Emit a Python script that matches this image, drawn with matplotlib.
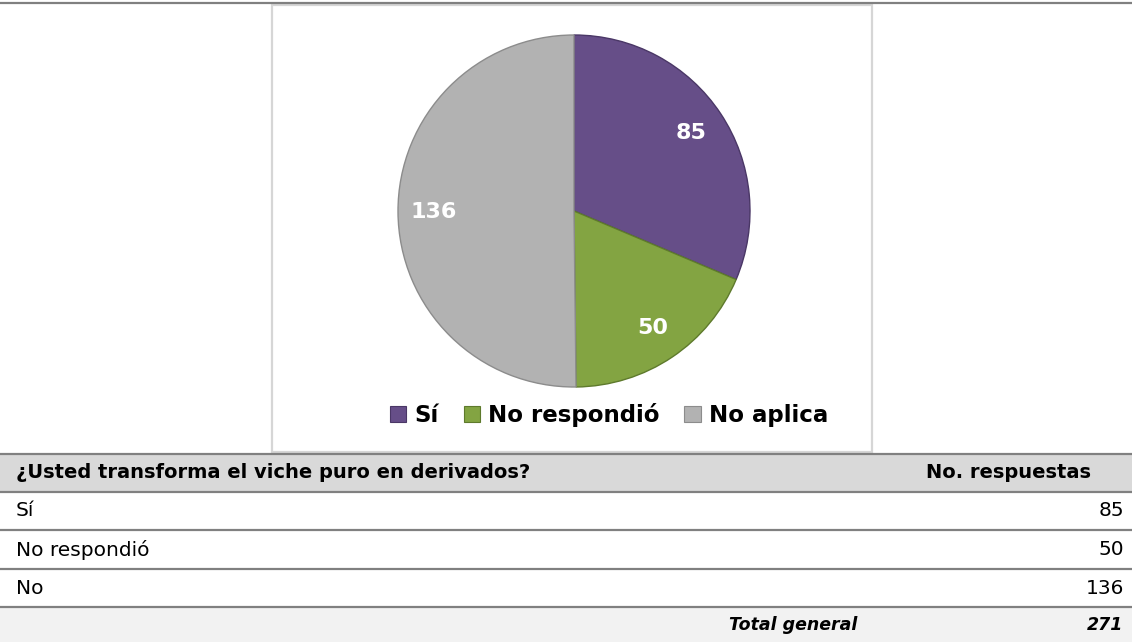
import matplotlib
matplotlib.use("Agg")
import matplotlib.pyplot as plt
from matplotlib.patches import Rectangle, Patch

# ---- data ----
pie_labels = ["Sí", "No respondió", "No aplica"]
pie_values = [85, 50, 136]
pie_colors = ["#664E88", "#83A442", "#B2B2B2"]
pie_edges = ["#4A3766", "#5E7A2C", "#8C8C8C"]

table_header = ["¿Usted transforma el viche puro en derivados?", "No. respuestas"]
table_categories = ["Sí", "No respondió", "No"]
table_values = [85, 50, 136]
total_label = "Total general"

W, H = 1132, 642
fig = plt.figure(figsize=(W / 100, H / 100), dpi=100)
fig.patch.set_facecolor("white")

# full-figure axes in pixel coordinates
bg = fig.add_axes([0, 0, 1, 1])
bg.set_xlim(0, W)
bg.set_ylim(H, 0)
bg.axis("off")

# top rule
bg.plot([0, W], [3, 3], color="#808080", lw=1.6, solid_capstyle="butt")
# chart box
bg.add_patch(Rectangle((272, 5), 600, 447, facecolor="white", edgecolor="#D6D6D6", lw=1.6))

# ---- table ----
row_tops = [454, 492, 530, 569, 607, 642]
bg.add_patch(Rectangle((0, row_tops[0]), W, row_tops[1] - row_tops[0], facecolor="#D9D9D9", edgecolor="none"))
bg.add_patch(Rectangle((0, row_tops[4]), W, row_tops[5] - row_tops[4], facecolor="#F2F2F2", edgecolor="none"))
for y in row_tops[:5]:
    bg.plot([0, W], [y, y], color="#808080", lw=1.6, solid_capstyle="butt")

txt_kw = dict(family="DejaVu Sans", color="black", va="center")
bg.text(16, (row_tops[0] + row_tops[1]) / 2, table_header[0], fontsize=14, fontweight="bold", ha="left", **txt_kw)
bg.text(1091, (row_tops[0] + row_tops[1]) / 2, table_header[1], fontsize=14, fontweight="bold", ha="right", **txt_kw)
for i, (cat, val) in enumerate(zip(table_categories, table_values)):
    yc = (row_tops[i + 1] + row_tops[i + 2]) / 2
    bg.text(16, yc, cat, fontsize=14.5, fontweight="normal", ha="left", **txt_kw)
    bg.text(1124, yc, str(val), fontsize=14.5, fontweight="normal", ha="right", **txt_kw)
yc = (row_tops[4] + row_tops[5]) / 2
bg.text(857, yc, total_label, fontsize=12.5, fontweight="bold", style="italic", ha="right", **txt_kw)
bg.text(1123, yc, str(sum(table_values)), fontsize=12.5, fontweight="bold", style="italic", ha="right", **txt_kw)

# ---- pie ----
cx, cy, r = 574, 211, 176
pax = fig.add_axes([(cx - r) / W, 1 - (cy + r) / H, 2 * r / W, 2 * r / H])
wedges, texts = pax.pie(
    pie_values,
    colors=pie_colors,
    startangle=90,
    counterclock=False,
    labels=[str(v) for v in pie_values],
    labeldistance=0.8,
    wedgeprops=dict(linewidth=1.0),
    textprops=dict(color="white", fontsize=16, fontweight="bold", ha="center", va="center"),
)
for w, ec in zip(wedges, pie_edges):
    w.set_edgecolor(ec)
pax.set_xlim(-1, 1)
pax.set_ylim(-1, 1)
pax.set_aspect("equal")
pax.axis("off")

# ---- legend ----
handles = [Patch(facecolor=c, edgecolor=e, lw=0.8) for c, e in zip(pie_colors, pie_edges)]
fig.legend(
    handles, pie_labels,
    loc="center", bbox_to_anchor=(609 / W, 1 - 415 / H),
    ncol=3, frameon=False,
    prop=dict(family="DejaVu Sans", weight="bold", size=16.5),
    handlelength=0.7, handleheight=0.7, handletextpad=0.35, columnspacing=1.1,
)

fig.savefig("out.png", dpi=100, facecolor="white")
